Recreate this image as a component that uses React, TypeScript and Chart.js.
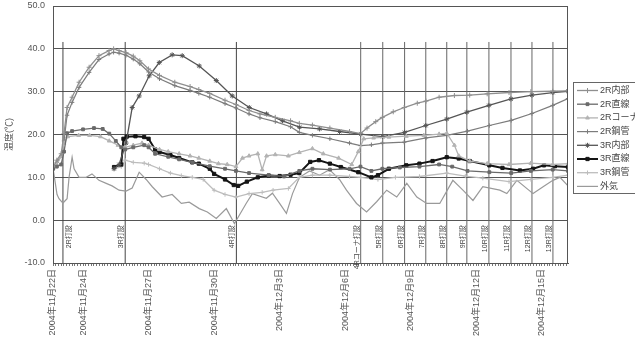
import { useEffect, useRef } from 'react';
import { Chart, registerables } from 'chart.js';
import { drawPoint } from 'chart.js/helpers';
Chart.register(...registerables);

const FONT = "'Liberation Sans', 'Noto Sans CJK JP', sans-serif";

// x values are days counted from 2004-11-22 00:00
const dateTickDays = [0.625, 2, 5, 8, 11, 14, 17, 20, 23];
const dateTickLabels = [
  '2004年11月22日', '2004年11月24日', '2004年11月27日', '2004年11月30日',
  '2004年12月3日', '2004年12月6日', '2004年12月9日', '2004年12月12日', '2004年12月15日',
];
const yTicks = [-10, 0, 10, 20, 30, 40, 50];

const eventDays = [1.08, 3.93, 9.02, 14.71, 15.72, 16.72, 17.69, 18.65, 19.57, 20.58, 21.59, 22.55, 23.51];
const eventLabels = ['2R打設', '3R打設', '4R打設', '4Rコーナ打設', '5R打設', '6R打設', '7R打設', '8R打設', '9R打設', '10R打設', '11R打設', '12R打設', '13R打設'];
const eventTop = 41.6;

const seriesNames = ['2R内部', '2R直線', '2Rコーナ', '2R鋼管', '3R内部', '3R直線', '3R鋼管', '外気'];

const days2RNaibu = [0.63,0.8,1.0,1.13,1.27,1.5,1.82,2.28,2.73,3.19,3.4,3.65,3.97,4.3,4.6,5.0,5.5,6.2,6.9,7.3,7.8,8.5,9.0,9.6,10.1,10.8,11.5,11.9,12.5,13.3,14.2,14.7,15.0,15.4,15.7,16.2,16.7,17.3,17.7,18.3,19.0,19.7,20.5,21.5,22.5,23.5,24.2];
const vals2RNaibu = [12.4,14,15.5,20.2,26.3,28.7,32.2,35.7,38.4,39.6,40,39.6,39.1,38.3,37.2,35.3,33.8,32.2,31.2,30.5,29.6,28,27,25.6,24.8,24,23.2,22.6,22.2,21.5,20.7,20.2,21.5,23,24,25.3,26.3,27.3,27.8,28.7,29.1,29.2,29.5,29.8,30,30.1,30.2];

const days2RChokusen = [0.63,0.8,1.0,1.13,1.27,1.5,2.0,2.5,2.9,3.2,3.5,3.75,3.93,4.3,4.8,5.0,5.3,5.9,6.4,7.0,7.8,8.5,9.0,9.6,10.5,11.2,11.9,12.5,13.3,14.2,14.7,15.2,15.7,16.5,17.4,18.3,18.9,19.6,20.6,21.6,22.5,23.5,24.2];
const vals2RChokusen = [12,12.5,13,16,20.3,20.8,21.2,21.5,21.3,20.2,18.5,17,16.5,17,17.5,17,15.5,14.8,14.2,13.5,12.6,12,11.5,11,10.5,10.2,11.5,12,11.8,12,12.5,11.5,12,12.3,12.5,13,12.5,11.5,11.2,11,11.5,11.8,11.5];

const days2RCorner = [0.63,0.8,1.0,1.13,1.3,1.8,2.3,2.8,3.2,3.6,3.93,4.3,4.7,5.0,5.5,5.9,6.4,6.9,7.3,7.8,8.2,8.6,9.0,9.3,9.6,10.0,10.2,10.4,10.8,11.4,11.9,12.5,13.0,13.7,14.3,14.6,14.85,15.3,16.0,16.8,17.6,18.3,18.65,19.0,19.2,19.7,20.5,21.5,22.5,23.5,24.2];
const vals2RCorner = [12,13,15,18,19.5,19.8,19.8,19.5,18.5,17.5,17,17.5,18,17.5,16.5,16,15.5,15,14.5,13.8,13.2,13,12.5,14.5,15,15.5,11.8,15,15.3,15,15.8,16.7,15.5,14.5,13,16,19,19.2,19.4,19.6,19.8,20.1,20.3,17.5,15,13.8,13.2,13,13.3,13,13.2];

const days2RKokan = [0.63,0.8,1.0,1.13,1.27,1.5,1.82,2.28,2.73,3.19,3.4,3.65,3.97,4.3,4.6,5.0,5.5,6.2,6.9,7.3,7.8,8.5,9.0,9.6,10.1,10.8,11.5,11.9,12.5,13.3,14.2,14.7,15.2,15.7,16.7,17.7,18.65,19.6,20.6,21.6,22.55,23.5,24.2];
const vals2RKokan = [12.2,13.5,15,18.5,24.5,27.5,31,34.5,37.5,38.8,39.2,39,38.5,37.6,36.5,34.6,33,31.4,30.3,29.6,28.7,27.2,26.2,24.8,23.9,23,21.8,20.5,19.8,19,18,17.4,17.6,18,18.2,19.2,19.8,20.8,22.1,23.3,24.9,26.8,28.4];

const days3RNaibu = [3.42,3.65,3.97,4.25,4.57,5.03,5.49,6.08,6.54,7.32,8.1,8.83,9.61,10.4,11.13,11.91,12.83,13.74,14.71,15.72,16.72,17.69,18.65,19.57,20.58,21.59,22.55,23.51,24.2];
const vals3RNaibu = [12,13,18,26.3,29,33.7,36.8,38.6,38.4,36,32.6,29,26.3,24.8,23.2,21.7,21.3,20.7,20.1,19.5,20.5,22.1,23.6,25.2,26.8,28.3,29.2,29.8,30.1];

const days3RChokusen = [3.42,3.75,3.85,4.0,4.4,4.8,5.0,5.3,5.5,6.0,6.4,7.0,7.3,7.8,8.0,8.5,8.9,9.1,9.5,10.0,10.5,11.0,11.5,11.9,12.4,12.8,13.3,13.8,14.6,15.2,15.5,16.0,16.8,17.4,18.0,18.65,19.2,19.7,20.6,21.2,22.0,22.6,23.1,23.6,24.2];
const vals3RChokusen = [12.4,13,19,19.5,19.6,19.4,19,16.5,15.9,15.2,14.5,13.5,13.2,12,10.8,9.5,8.2,8,9,10,10.4,10.3,10.6,11,13.6,14,13.2,12.4,11.2,10,10.5,12,12.8,13.2,13.8,14.7,14.4,13.8,12.8,12.2,11.6,12,12.8,12.6,12.4];

const days3RKokan = [3.42,3.75,3.93,4.3,4.8,5.0,5.5,6.0,6.5,7.0,7.5,8.0,8.5,9.0,9.6,10.2,10.7,11.4,11.9,12.5,13.3,14.2,14.7,15.5,16.3,17.4,18.65,19.5,20.3,21.5,22.5,23.5,24.2];
const vals3RKokan = [12,12.5,14,13.5,13.3,13,12,11,10.4,10,9.5,7,6,5.4,6.2,6.5,7,7.4,10,10.5,10.5,10.2,10,9.5,10,10.2,11,10.3,9.8,9,9.5,10,10.5];

const daysGaiki = [0.63,0.72,0.81,0.9,1.08,1.27,1.36,1.5,1.59,1.82,2.14,2.41,2.73,3.06,3.33,3.65,3.97,4.25,4.57,4.89,5.17,5.62,6.08,6.5,6.86,7.32,7.69,8.1,8.56,8.93,9.16,9.48,9.75,10.39,10.67,10.99,11.31,11.59,11.91,12.37,12.83,13.28,13.74,14.06,14.52,14.98,15.44,15.9,16.36,16.82,17.28,17.73,18.33,18.93,19.39,19.85,20.3,21.08,21.4,21.86,22.6,23.06,23.51,23.83,24.2];
const valsGaiki = [12,9,6,5,4,5,10,14.7,12,10,10,10.8,9.3,8.6,8,7,6.8,7.5,11.2,9.5,7.8,5.4,6,3.9,4.2,2.7,1.9,0.4,2.7,-0.8,1.2,4,6.2,5.1,6.3,4,1.6,6.2,10,11.5,10.5,11.8,9.5,7,3.9,1.9,4.3,7,5.4,8.6,5.4,3.9,3.9,9.3,7,4.6,7.8,7,6.2,9.3,6.2,7.8,9.3,10,8];

const seriesDays = [days2RNaibu, days2RChokusen, days2RCorner, days2RKokan, days3RNaibu, days3RChokusen, days3RKokan, daysGaiki];
const seriesVals = [vals2RNaibu, vals2RChokusen, vals2RCorner, vals2RKokan, vals3RNaibu, vals3RChokusen, vals3RKokan, valsGaiki];

const seriesStyle = [
  { color: '#8f8f8f', point: 'cross', radius: 2.5, width: 1.3 },
  { color: '#6a6a6a', point: 'rect', radius: 2, width: 1.3 },
  { color: '#b3b3b3', point: 'triangle', radius: 2.2, width: 1.3 },
  { color: '#7c7c7c', point: 'cross', radius: 2.2, width: 1.2 },
  { color: '#555555', point: 'star', radius: 2.5, width: 1.3 },
  { color: '#151515', point: 'rect', radius: 2.3, width: 2 },
  { color: '#bdbdbd', point: 'cross', radius: 2.2, width: 1.3 },
  { color: '#9a9a9a', point: false as any, radius: 0, width: 1.2 },
];

const overlayPlugin = {
  id: 'overlayPlugin',
  afterDatasetsDraw(chart: any) {
    const { ctx, chartArea, scales } = chart;
    ctx.save();
    ctx.strokeStyle = '#555';
    ctx.lineWidth = 1;
    ctx.strokeRect(Math.round(chartArea.left) + 0.5, Math.round(chartArea.top) + 0.5,
      Math.round(chartArea.right - chartArea.left) - 1, Math.round(chartArea.bottom - chartArea.top));
    ctx.font = `7px ${FONT}`;
    ctx.fillStyle = '#444';
    ctx.textAlign = 'right';
    ctx.textBaseline = 'middle';
    const yTop = scales.y.getPixelForValue(-1.2);
    eventDays.forEach((d, i) => {
      const x = scales.x.getPixelForValue(d) + (i === 0 ? 6 : -4);
      ctx.save();
      ctx.translate(x, yTop);
      ctx.rotate(-Math.PI / 2);
      ctx.fillText(eventLabels[i], 0, 0);
      ctx.restore();
    });
    // legend
    const lx = chartArea.right + 5;
    const ly = 82;
    const lh = 111;
    ctx.strokeStyle = '#666';
    ctx.strokeRect(Math.round(lx) + 0.5, Math.round(ly) + 0.5, 80, lh);
    ctx.font = `9px ${FONT}`;
    ctx.fillStyle = '#444';
    ctx.textAlign = 'left';
    seriesNames.forEach((name, i) => {
      const st = seriesStyle[i];
      const y = ly + 8.5 + i * 13.7;
      ctx.strokeStyle = st.color;
      ctx.lineWidth = st.width;
      ctx.beginPath();
      ctx.moveTo(lx + 4, y);
      ctx.lineTo(lx + 25, y);
      ctx.stroke();
      if (st.point) {
        ctx.fillStyle = st.color;
        ctx.strokeStyle = st.color;
        ctx.lineWidth = 1;
        drawPoint(ctx, { pointStyle: st.point, radius: st.radius, rotation: 0, borderWidth: 1 } as any, lx + 14.5, y);
      }
      ctx.fillStyle = '#444';
      ctx.fillText(name, lx + 27, y);
    });
    ctx.restore();
  },
};

export default function App() {
  const ref = useRef<HTMLCanvasElement>(null);
  useEffect(() => {
    document.body.style.margin = '0';
    const datasets: any[] = seriesNames.map((name, i) => {
      const st = seriesStyle[i];
      return {
        label: name,
        data: seriesDays[i].map((d, j) => ({ x: d, y: seriesVals[i][j] })),
        borderColor: st.color,
        backgroundColor: st.color,
        borderWidth: st.width,
        pointStyle: st.point,
        pointRadius: st.radius,
        pointBorderColor: st.color,
        pointBackgroundColor: st.color,
        pointBorderWidth: 1,
        tension: 0,
        order: 1,
      };
    });
    eventDays.forEach((d, i) => {
      datasets.push({
        label: '',
        data: [{ x: d, y: -10 }, { x: d, y: eventTop }],
        borderColor: i < 3 ? '#444' : '#666',
        borderWidth: 1,
        pointRadius: 0,
        order: 5,
      });
    });
    const chart = new Chart(ref.current!, {
      type: 'line',
      data: { datasets },
      plugins: [overlayPlugin],
      options: {
        animation: false,
        responsive: false,
        maintainAspectRatio: false,
        layout: { padding: { top: 6, right: 67, left: 0, bottom: 0 } },
        plugins: { legend: { display: false }, tooltip: { enabled: false } },
        scales: {
          x: {
            type: 'linear',
            min: 0.625,
            max: 24.2,
            afterBuildTicks: (s: any) => {
              const t: any[] = [];
              for (let v = 0.625; v <= 24.2 + 1e-9; v += 0.125) t.push({ value: v });
              s.ticks = t;
            },
            ticks: {
              autoSkip: false,
              maxRotation: 90,
              minRotation: 90,
              padding: 3,
              font: { size: 9, family: FONT },
              color: '#555',
              callback: (v: any) => {
                const k = dateTickDays.findIndex((d) => Math.abs(d - Number(v)) < 1e-6);
                return k >= 0 ? dateTickLabels[k] : '';
              },
            },
            grid: { drawOnChartArea: false, tickLength: 3, color: '#777' },
            border: { color: '#555' },
            afterFit: (s: any) => { s.height = 82; s.paddingLeft = 0; s.paddingRight = 0; },
          },
          y: {
            min: -10,
            max: 50,
            afterBuildTicks: (s: any) => { s.ticks = yTicks.map((v) => ({ value: v })); },
            ticks: {
              callback: (v: any) => Number(v).toFixed(1),
              font: { size: 9, family: FONT },
              color: '#555',
              padding: 8,
            },
            grid: { color: '#555', drawTicks: false },
            border: { color: '#555' },
            title: { display: true, text: '温度(℃)', font: { size: 9, family: FONT }, color: '#555', padding: { top: 4, bottom: 0 } },
            afterFit: (s: any) => { s.width = 53; s.paddingTop = 0; s.paddingBottom = 0; },
          },
        },
      },
    });
    return () => chart.destroy();
  }, []);
  return (
    <div style={{ position: 'absolute', left: 0, top: 0, width: 635, height: 345 }}>
      <canvas ref={ref} width={635} height={345} style={{ width: 635, height: 345 }} />
    </div>
  );
}
